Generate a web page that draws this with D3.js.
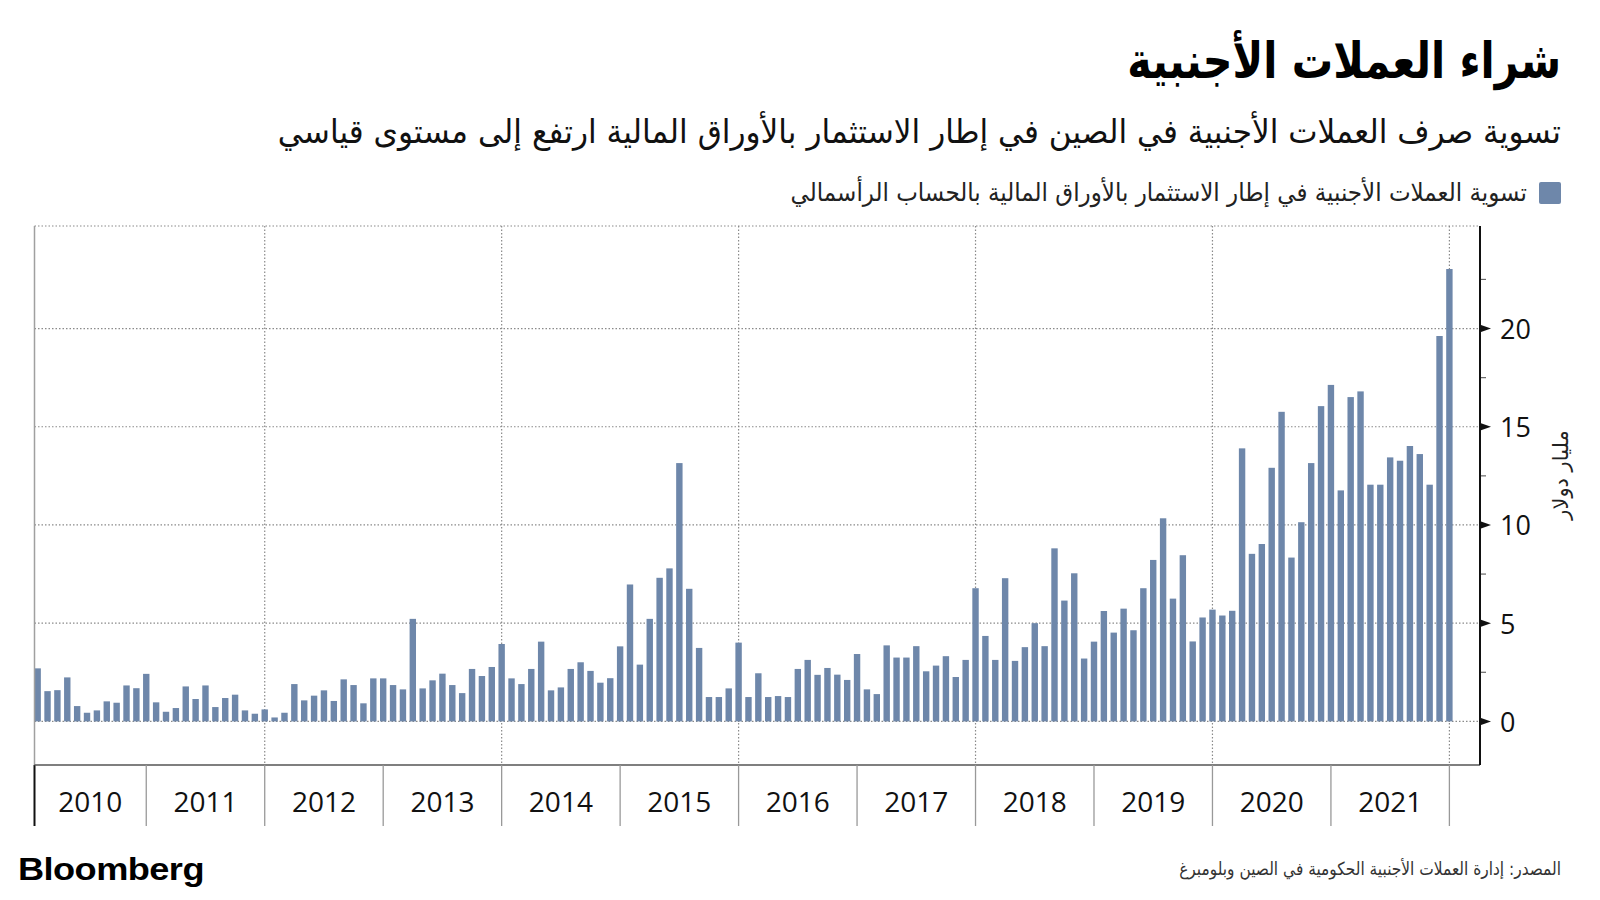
<!DOCTYPE html>
<html><head><meta charset="utf-8">
<script src="https://cdn.jsdelivr.net/npm/d3@7"></script>
<style>
html,body{margin:0;padding:0;background:#fff;}
svg{display:block;}
</style>
</head><body>
<svg id="chart" width="1600" height="900"></svg>
<script>
// ---- Data (billion USD, monthly, Jan 2010 – Dec 2021) ----
const years = [2010, 2011, 2012, 2013, 2014, 2015, 2016, 2017, 2018, 2019, 2020, 2021];
const v2010 = [2.70, 1.54, 1.59, 2.24, 0.78, 0.44, 0.56, 1.02, 0.95, 1.83, 1.69, 2.42];
const v2011 = [0.97, 0.49, 0.68, 1.78, 1.14, 1.83, 0.73, 1.19, 1.36, 0.56, 0.39, 0.61];
const v2012 = [0.20, 0.44, 1.90, 1.07, 1.31, 1.58, 1.04, 2.14, 1.85, 0.92, 2.19, 2.19];
const v2013 = [1.85, 1.63, 5.22, 1.68, 2.09, 2.43, 1.85, 1.44, 2.67, 2.31, 2.77, 3.94];
const v2014 = [2.19, 1.90, 2.67, 4.06, 1.58, 1.73, 2.67, 3.01, 2.57, 1.97, 2.20, 3.82];
const v2015 = [6.97, 2.89, 5.22, 7.31, 7.79, 13.15, 6.75, 3.74, 1.24, 1.24, 1.68, 4.01];
const v2016 = [1.24, 2.45, 1.24, 1.29, 1.24, 2.67, 3.13, 2.37, 2.72, 2.38, 2.11, 3.43];
const v2017 = [1.63, 1.39, 3.87, 3.25, 3.25, 3.83, 2.55, 2.84, 3.32, 2.26, 3.13, 6.78];
const v2018 = [4.35, 3.13, 7.29, 3.08, 3.78, 5.00, 3.83, 8.81, 6.15, 7.54, 3.20, 4.06];
const v2019 = [5.62, 4.52, 5.74, 4.64, 6.78, 8.22, 10.34, 6.25, 8.46, 4.07, 5.29, 5.69];
const v2020 = [5.39, 5.63, 13.90, 8.53, 9.03, 12.91, 15.76, 8.34, 10.14, 13.15, 16.05, 17.13];
const v2021 = [11.76, 16.51, 16.80, 12.05, 12.05, 13.44, 13.27, 14.02, 13.61, 12.05, 19.62, 23.03];
const yTicks = [0, 5, 10, 15, 20];
const yMinorTicks = [2.5, 7.5, 12.5, 17.5, 22.5];
const gridYears = [2012, 2014, 2016, 2018, 2020, 2022];

const title = "شراء العملات الأجنبية";
const subtitle = "تسوية صرف العملات الأجنبية في الصين في إطار الاستثمار بالأوراق المالية ارتفع إلى مستوى قياسي";
const legendLabel = "تسوية العملات الأجنبية في إطار الاستثمار بالأوراق المالية بالحساب الرأسمالي";
const yTitle = "مليار دولار";
const source = "المصدر: إدارة العملات الأجنبية الحكومية في الصين وبلومبرغ";

const yearValues = [v2010, v2011, v2012, v2013, v2014, v2015, v2016, v2017, v2018, v2019, v2020, v2021];
const data = [];
yearValues.forEach((arr, yi) => arr.forEach((v, m) => data.push({ year: years[yi], month: m, idx: yi * 12 + m, value: v })));

// ---- Layout ----
const L = 34.5, R = 1480, T = 226, B = 765;
const barColor = "#6e87aa";
const svg = d3.select("#chart");

// Bars are placed at month end; month index scale
const x = d3.scaleLinear().domain([-0.32, 146.1]).range([L, R]);
const y = d3.scaleLinear().domain([-2.22, 25.22]).range([B, T]);
const boundaryIdx = yr => (yr - 2010) * 12 - 1; // end of December of previous year
const arabic = "'DejaVu Sans', 'Noto Sans', sans-serif";
const latin = "'Open Sans', 'Noto Sans', sans-serif";

// Horizontal dotted gridlines
svg.append("g").selectAll("line").data(yTicks).join("line")
  .attr("x1", L).attr("x2", R).attr("y1", d => y(d)).attr("y2", d => y(d))
  .attr("stroke", "#8a8a8a").attr("stroke-width", 1.2).attr("stroke-dasharray", "1.5,2");
// top border dotted
svg.append("line").attr("x1", L).attr("x2", R).attr("y1", T).attr("y2", T)
  .attr("stroke", "#8a8a8a").attr("stroke-width", 1.2).attr("stroke-dasharray", "1.5,2");

// Vertical dotted gridlines
svg.append("g").selectAll("line").data(gridYears).join("line")
  .attr("x1", d => x(boundaryIdx(d))).attr("x2", d => x(boundaryIdx(d)))
  .attr("y1", T).attr("y2", B)
  .attr("stroke", "#8a8a8a").attr("stroke-width", 1.2).attr("stroke-dasharray", "1.5,2");

// Bars
const bw = 6.4;
svg.append("g").selectAll("rect").data(data).join("rect")
  .attr("x", d => x(d.idx) - bw / 2)
  .attr("width", bw)
  .attr("y", d => y(Math.max(0, d.value)))
  .attr("height", d => Math.abs(y(d.value) - y(0)))
  .attr("fill", barColor);

// Left border (gray in plot, black below)
svg.append("line").attr("x1", L).attr("x2", L).attr("y1", T).attr("y2", B)
  .attr("stroke", "#a0a0a0").attr("stroke-width", 1.5);
svg.append("line").attr("x1", L).attr("x2", L).attr("y1", B).attr("y2", 826)
  .attr("stroke", "#111").attr("stroke-width", 2);

// X axis baseline
svg.append("line").attr("x1", L).attr("x2", R).attr("y1", B).attr("y2", B)
  .attr("stroke", "#555").attr("stroke-width", 1.5);

// Year separator ticks
const sepYears = years.map(yr => yr + 1);
svg.append("g").selectAll("line").data(sepYears).join("line")
  .attr("x1", d => x(boundaryIdx(d))).attr("x2", d => x(boundaryIdx(d)))
  .attr("y1", B).attr("y2", 826)
  .attr("stroke", "#999").attr("stroke-width", 1.3);

// Year labels centred between separators (clamped to plot)
svg.append("g").selectAll("text").data(years).join("text")
  .attr("x", d => (Math.max(L, x(boundaryIdx(d))) + x(boundaryIdx(d + 1))) / 2)
  .attr("y", 801)
  .attr("text-anchor", "middle").attr("dominant-baseline", "central")
  .attr("font-family", latin).attr("font-size", 28).attr("fill", "#111")
  .text(d => d);

// Right axis
svg.append("line").attr("x1", R).attr("x2", R).attr("y1", T).attr("y2", B)
  .attr("stroke", "#111").attr("stroke-width", 2);
svg.append("g").selectAll("path").data(yTicks).join("path")
  .attr("d", d => `M${R + 1},${y(d) - 3.5}L${R + 11},${y(d)}L${R + 1},${y(d) + 3.5}Z`)
  .attr("fill", "#111");
svg.append("g").selectAll("line").data(yMinorTicks).join("line")
  .attr("x1", R + 1).attr("x2", R + 6).attr("y1", d => y(d)).attr("y2", d => y(d))
  .attr("stroke", "#666").attr("stroke-width", 1.2);
svg.append("g").selectAll("text").data(yTicks).join("text")
  .attr("x", R + 20).attr("y", d => y(d))
  .attr("dominant-baseline", "central")
  .attr("font-family", latin).attr("font-size", 27).attr("fill", "#111")
  .text(d => d);

// Y axis title
svg.append("text")
  .attr("transform", "translate(1561,475) rotate(-90)")
  .attr("text-anchor", "middle").attr("dominant-baseline", "central")
  .attr("font-family", arabic).attr("font-size", 21).attr("fill", "#222")
  .text(yTitle);

// Fitted Arabic text helper: right edge at rx, width targetW
function fitText(rx, baseline, str, size, weight, color, targetW) {
  const g = svg.append("g");
  const t = g.append("text").attr("x", 0).attr("y", 0)
    .attr("text-anchor", "end")
    .attr("font-family", arabic).attr("font-size", size).attr("font-weight", weight)
    .attr("fill", color).text(str);
  const w = t.node().getBBox().width;
  const s = w > 0 ? targetW / w : 1;
  g.attr("transform", `translate(${rx},${baseline}) scale(${s},1)`);
  return g;
}

fitText(1561, 78, title, 50, "bold", "#000", 434);
fitText(1561, 143, subtitle, 33, "normal", "#111", 1284);
fitText(1527, 201, legendLabel, 25, "normal", "#222", 737);
fitText(1561, 875, source, 18, "normal", "#333", 382);

// Legend swatch
svg.append("rect").attr("x", 1539).attr("y", 182).attr("width", 22).attr("height", 22)
  .attr("rx", 2).attr("fill", barColor);

// Bloomberg
const bg = svg.append("g");
const bt = bg.append("text").attr("x", 0).attr("y", 0)
  .attr("font-family", "'Liberation Sans', Arial, sans-serif").attr("font-weight", "bold")
  .attr("font-size", 32).attr("fill", "#000").attr("letter-spacing", -0.5).text("Bloomberg");
const bwid = bt.node().getBBox().width;
bg.attr("transform", `translate(18,880) scale(${186 / bwid},1)`);
</script>
</body></html>
